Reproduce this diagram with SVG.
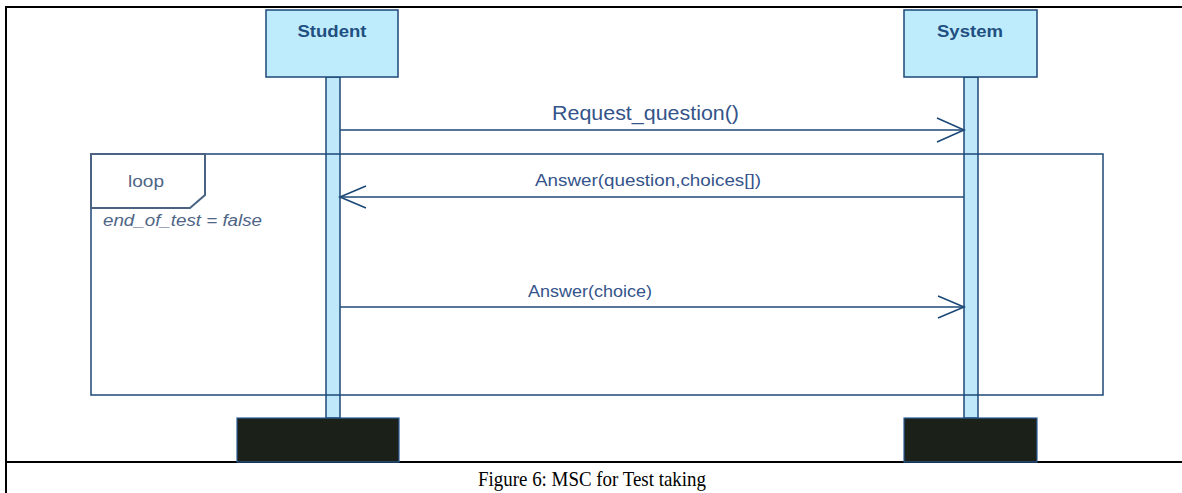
<svg xmlns="http://www.w3.org/2000/svg" width="1182" height="493" viewBox="0 0 1182 493">
  <style>
    .frame { stroke: #000; stroke-width: 2; fill: none; }
    .head { fill: #bfecfd; stroke: #1c4877; stroke-width: 1.5; }
    .life { fill: #bfe9fb; stroke: #1c4877; stroke-width: 1.5; }
    .foot { fill: #1b2119; stroke: #2a5d96; stroke-width: 1.2; }
    .name { font-family: "Liberation Sans", Arial, sans-serif; font-weight: bold; font-size: 17px; fill: #1f4f80; text-anchor: middle; }
    .msg { stroke: #1c4877; stroke-width: 1.5; fill: none; }
    .tip { stroke: #1c4877; stroke-width: 1.6; fill: none; stroke-linejoin: miter; }
    .label { font-family: "Liberation Sans", Arial, sans-serif; fill: #34548a; }
    .loopbox { stroke: #1c4877; stroke-width: 1.5; fill: none; }
    .tab { stroke: #4b6282; stroke-width: 2; fill: #fff; }
    .loopt { font-family: "Liberation Sans", Arial, sans-serif; fill: #4f6586; }
    .caption { font-family: "Liberation Serif", "Times New Roman", serif; font-size: 21px; fill: #000; }
  </style>

  <rect width="1182" height="493" fill="#fff"/>

  <!-- table cell borders -->
  <g id="table">
    <line class="frame" x1="6" y1="7" x2="1182" y2="7"/>
    <line class="frame" x1="6" y1="6" x2="6" y2="493"/>
    <line class="frame" x1="6" y1="462" x2="1182" y2="462"/>
  </g>

  <!-- participant: Student -->
  <g id="student">
    <rect class="life" x="326" y="77" width="14" height="341"/>
    <rect class="head" x="266" y="10" width="132" height="67"/>
    <text class="name" x="332" y="37" textLength="69" lengthAdjust="spacingAndGlyphs">Student</text>
    <rect class="foot" x="237" y="418" width="162" height="44"/>
  </g>

  <!-- participant: System -->
  <g id="system">
    <rect class="life" x="964" y="77" width="14" height="341"/>
    <rect class="head" x="904" y="10" width="133" height="67"/>
    <text class="name" x="970" y="37" textLength="66" lengthAdjust="spacingAndGlyphs">System</text>
    <rect class="foot" x="904" y="418" width="133" height="44"/>
  </g>

  <!-- combined fragment, drawn over the lifelines -->
  <g id="loop">
    <rect class="loopbox" x="91" y="154" width="1012" height="241"/>
    <path class="tab" d="M91,154 H205 V195 L190,208 H91 Z"/>
    <text class="loopt" x="146" y="187" font-size="17" text-anchor="middle" textLength="36" lengthAdjust="spacingAndGlyphs">loop</text>
    <text class="loopt" x="103" y="226" font-size="16" font-style="italic" textLength="159" lengthAdjust="spacingAndGlyphs">end_of_test = false</text>
  </g>

  <!-- messages -->
  <g id="connectors">
    <line class="msg" x1="340" y1="130" x2="964" y2="130"/>
    <polyline class="tip" points="937,118 964,130 937,142"/>
    <text class="label" x="552" y="120" font-size="21" textLength="187" lengthAdjust="spacingAndGlyphs">Request_question()</text>

    <line class="msg" x1="964" y1="197" x2="340" y2="197"/>
    <polyline class="tip" points="366,186 340,197 366,208"/>
    <text class="label" x="535" y="186" font-size="17" textLength="226" lengthAdjust="spacingAndGlyphs">Answer(question,choices[])</text>

    <line class="msg" x1="340" y1="307" x2="964" y2="307"/>
    <polyline class="tip" points="938,296 964,307 938,318"/>
    <text class="label" x="528" y="297" font-size="17" textLength="124" lengthAdjust="spacingAndGlyphs">Answer(choice)</text>
  </g>

  <text class="caption" x="478" y="486" textLength="228" lengthAdjust="spacingAndGlyphs">Figure 6: MSC for Test taking</text>
</svg>
